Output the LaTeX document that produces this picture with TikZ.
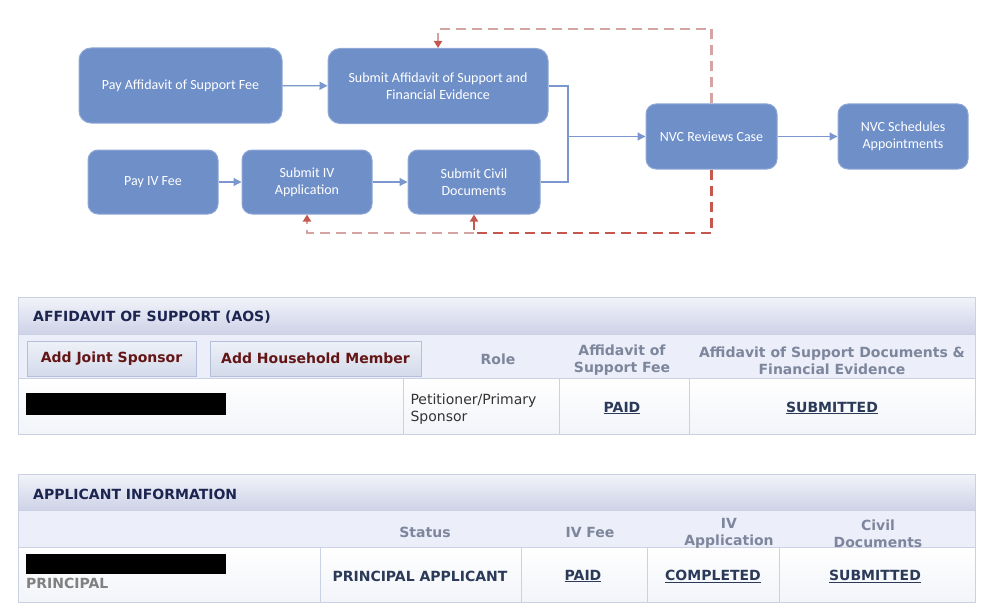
\documentclass[tikz,border=0pt]{standalone}
\usepackage{fontspec}
\setmainfont{DejaVu Sans}
\newfontfamily\flowfont{Carlito}
\usetikzlibrary{arrows.meta}

\definecolor{boxblue}{HTML}{6F8FC9}
\definecolor{boxedge}{HTML}{8FA7D6}
\definecolor{lineblue}{HTML}{7B97CD}
\definecolor{darkred}{HTML}{C4574E}
\definecolor{lightred}{HTML}{D3A4A1}
\definecolor{tabedge}{HTML}{CBD1E5}
\definecolor{bandtop}{HTML}{F2F4FA}
\definecolor{bandbot}{HTML}{CDD2E7}
\definecolor{colrow}{HTML}{ECEFF9}
\definecolor{rowbot}{HTML}{F2F4F9}
\definecolor{titlenavy}{HTML}{1B2550}
\definecolor{headgray}{HTML}{7D869C}
\definecolor{linknavy}{HTML}{2B3A58}
\definecolor{btnred}{HTML}{641515}
\definecolor{btntop}{HTML}{EEF1F8}
\definecolor{btnbot}{HTML}{D3DAEA}
\definecolor{btnedge}{HTML}{B4C0DA}

\begin{document}
\begin{tikzpicture}[x=1pt,y=-1pt,
  stepbox/.style={fill=boxblue,draw=boxedge,line width=1pt,rounded corners=12pt,
    text=white,align=center,font=\flowfont\fontsize{14}{17}\selectfont},
  flow/.style={draw=lineblue,line width=1.2pt,-{Triangle[length=8pt,width=8pt]}},
  link/.style={draw=lineblue,line width=1.2pt},
  backdark/.style={draw=darkred,line width=2.7pt,dash pattern=on 10pt off 6pt,
    -{Triangle[length=7pt,width=8pt]}},
  backlight/.style={draw=lightred,line width=2.7pt,dash pattern=on 10pt off 6pt,
    -{Triangle[length=7pt,width=8pt,color=darkred]}},
  title/.style={anchor=west,inner xsep=0pt,text=titlenavy,font=\bfseries\fontsize{14}{17}\selectfont},
  colhead/.style={text=headgray,align=center,font=\bfseries\fontsize{14}{17}\selectfont},
  status/.style={text=linknavy,font=\bfseries\fontsize{14}{17}\selectfont},
  button/.style={top color=btntop,bottom color=btnbot,draw=btnedge,line width=1pt,
    text=btnred,font=\bfseries\fontsize{14}{17}\selectfont,inner sep=0pt}]

\useasboundingbox (0,0) rectangle (1000,615);

%% flow chart
\node[stepbox,minimum width=203pt,minimum height=75pt] (payaos) at (180.5,85.5) {Pay Affidavit of Support Fee};
\node[stepbox,minimum width=220pt,minimum height=75pt] (subaos) at (438,86) {Submit Affidavit of Support and\\Financial Evidence};
\node[stepbox,minimum width=130pt,minimum height=64pt,rounded corners=10pt] (payiv) at (153,182) {Pay IV Fee};
\node[stepbox,minimum width=130pt,minimum height=64pt,rounded corners=10pt] (subiv) at (307,182) {Submit IV\\Application};
\node[stepbox,minimum width=132pt,minimum height=64pt,rounded corners=10pt] (civil) at (474,182) {Submit Civil\\Documents};
\node[stepbox,minimum width=131pt,minimum height=65pt,rounded corners=10pt] (review) at (711.5,136.5) {NVC Reviews Case};
\node[stepbox,minimum width=130pt,minimum height=65pt,rounded corners=10pt] (sched) at (903,136.5) {NVC Schedules\\Appointments};

\coordinate (join) at (568,136.5);
\coordinate (topturn) at (711.5,29);
\coordinate (botturn) at (711.5,233);
\coordinate (botmid) at (474,233);

\draw[flow] (payaos) -- (subaos);
\draw[flow] (payiv) -- (subiv);
\draw[flow] (subiv) -- (civil);
\draw[link] (subaos.east) -| (join) |- (civil.east);
\draw[flow] (join) -- (review);
\draw[flow] (review) -- (sched);

%% send back lines
\draw[backlight] (review.north) -- (topturn) -| (subaos.north);
\draw[backdark] (review.south) -- (botturn) -- (botmid) -- (civil.south);
\draw[backlight] (botmid) -| (subiv.south);

%% affidavit of support table
\shade[top color=bandtop,bottom color=bandbot] (18,297) rectangle (975,334);
\fill[colrow] (18,334) rectangle (975,378);
\shade[top color=white,bottom color=rowbot] (18,378) rectangle (975,434);
\draw[tabedge,line width=1pt] (18,334) -- (975,334);
\draw[tabedge,line width=1pt] (18,378) -- (975,378);
\draw[tabedge,line width=1pt] (403,378) -- (403,434);
\draw[tabedge,line width=1pt] (559,378) -- (559,434);
\draw[tabedge,line width=1pt] (689,378) -- (689,434);
\draw[tabedge,line width=1pt] (18,297) rectangle (975,434);

\node[title] (aostitle) at (33,317) {AFFIDAVIT OF SUPPORT (AOS)};
\node[button,minimum width=169pt,minimum height=35pt] (joint) at (111.5,358.5) {Add Joint Sponsor};
\node[button,minimum width=211pt,minimum height=35pt] (house) at (315.5,358.5) {Add Household Member};
\node[colhead] (role) at (498,359.5) {Role};
\node[colhead] (aosfee) at (622,360.5) {Affidavit of\\Support Fee};
\node[colhead] (aosdocs) at (832,360.5) {Affidavit of Support Documents \&\\Financial Evidence};
\fill[black] (26,393) rectangle (226,415);
\node[anchor=west,align=left,text=black!80,font=\fontsize{14}{17}\selectfont] (sponsor) at (407,409) {Petitioner/Primary\\Sponsor};
\node[status] (aospaid) at (622,408) {\underline{PAID}};
\node[status] (aossub) at (832,408) {\underline{SUBMITTED}};

%% applicant information table
\shade[top color=bandtop,bottom color=bandbot] (18,474) rectangle (975,510);
\fill[colrow] (18,510) rectangle (975,547);
\shade[top color=white,bottom color=rowbot] (18,547) rectangle (975,602);
\draw[tabedge,line width=1pt] (18,510) -- (975,510);
\draw[tabedge,line width=1pt] (18,547) -- (975,547);
\draw[tabedge,line width=1pt] (320,547) -- (320,602);
\draw[tabedge,line width=1pt] (521,547) -- (521,602);
\draw[tabedge,line width=1pt] (647,547) -- (647,602);
\draw[tabedge,line width=1pt] (779,547) -- (779,602);
\draw[tabedge,line width=1pt] (18,474) rectangle (975,602);

\node[title] (apptitle) at (33,494) {APPLICANT INFORMATION};
\node[colhead] (statushead) at (425,532) {Status};
\node[colhead] (feehead) at (590,532) {IV Fee};
\node[colhead] (apphead) at (729,533.5) {IV\\Application};
\node[colhead] (civhead) at (878,533.5) {Civil\\Documents};
\fill[black] (26,554) rectangle (226,574);
\node[anchor=west,text=black!50,font=\bfseries\fontsize{14}{17}\selectfont,inner xsep=0pt] (principal) at (26,583) {PRINCIPAL};
\node[status] (appstatus) at (420,576) {PRINCIPAL APPLICANT};
\node[status] (feepaid) at (583,576) {\underline{PAID}};
\node[status] (appdone) at (713,576) {\underline{COMPLETED}};
\node[status] (civsub) at (875,576) {\underline{SUBMITTED}};

\end{tikzpicture}
\end{document}
